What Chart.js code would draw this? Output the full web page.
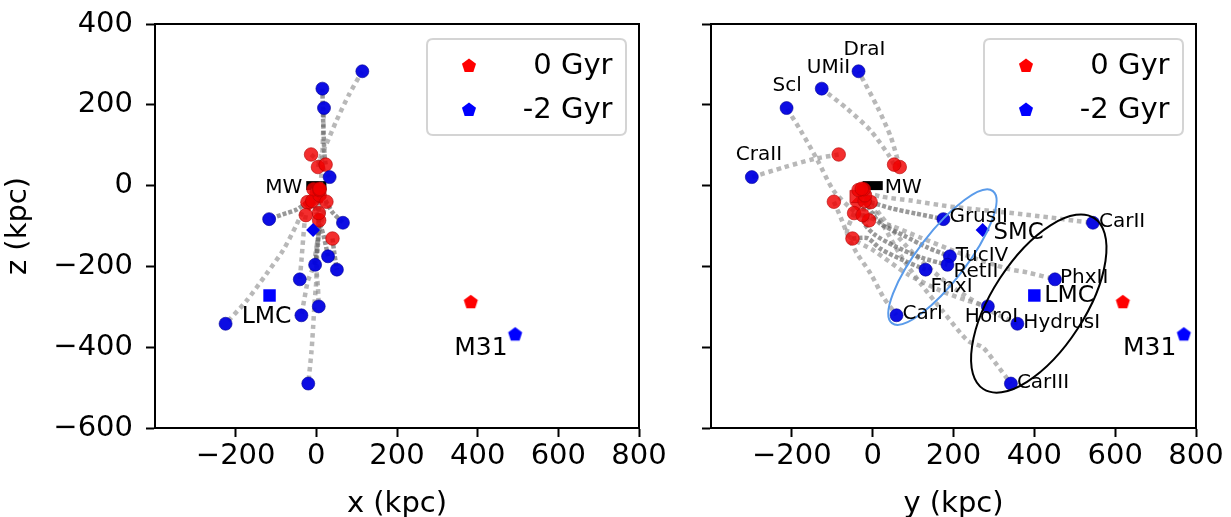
<!DOCTYPE html>
<html><head><meta charset="utf-8">
<script src="https://cdn.jsdelivr.net/npm/chart.js@4.4.1/dist/chart.umd.min.js"></script>
<style>
html,body{margin:0;padding:0;background:#fff;}
#wrap{position:relative;width:1231px;height:517px;overflow:hidden;}
#c1{position:absolute;left:0;top:0;}
#c2{position:absolute;left:690px;top:0;}
</style></head><body>
<div id="wrap"><canvas id="c1" width="690" height="517"></canvas><canvas id="c2" width="541" height="517"></canvas></div>
<script>
// ---------------- DATA ----------------
const names = ['DraI','UMiI','Scl','CraII','GrusII','TucIV','RetII','FnxI','CarI','HoroI','HydrusI','PhxII','CarII','CarIII'];
// -2 Gyr positions (kpc)
const blueX = [114, 15, 19, 33, -117, 29, -3, 51, -37, 6, -225, -41, 66, -20];
const blueY = [-35, -126, -213, -299, 175, 191, 185, 131, 59, 285, 358, 451, 545, 342];
const blueZ = [283, 240, 192, 21, -83, -175, -196, -208, -321, -299, -342, -232, -92, -490];
// 0 Gyr positions (kpc)
const redX = [4, 23, 7, -13, -22, -10, 8, 40, 25, 6, -7, -26, 8, 8];
const redY = [67, 53, -9, -84, -5, -20, -19, -50, -96, -46, -22, -25, -35, -27];
const redZ = [46, 52, -86, 77, -41, -38, -24, -131, -40, -68, -9, -73, -11, -8];
// Magellanic Clouds and M31: [x, y, z]
const lmcBlue = [-116, 400, -272];
const smcBlue = [-8, 272, -110];
const lmcRed = [0, -41, -27];
const smcRed = [-17, -38, -45];
const m31Red = [383, 619, -287];
const m31Blue = [493, 770, -367];
// Milky Way disc extent
const mwDisk = [-25, 25];
// ticks
const hTicks = [-200, 0, 200, 400, 600, 800];
const zTicks = [-600, -400, -200, 0, 200, 400];
// orbit trail waypoints between 0 Gyr and -2 Gyr (x,z) and (y,z)
const trailsXZ = [
  [[12,75],[25,103],[50,161],[82,227]],
  [[20,80],[17,160]],
  [[9,-40],[12,20],[15,80],[17,136]],
  [[5,60],[20,38]],
  [[-50,-60],[-83,-71]],
  [[2,-72],[18,-124]],
  [[5,-70],[6,-105],[4,-145]],
  [[45,-170]],
  [[16,-75],[3,-136],[-8,-202],[-21,-236],[-29,-277]],
  [[5,-120],[0,-161],[0,-202],[4,-252]],
  [[-28,-50],[-50,-99],[-83,-161],[-124,-219],[-173,-285]],
  [[-29,-90],[-33,-136],[-37,-186]],
  [[23,-37],[40,-66]],
  [[5,-100],[2,-170],[0,-235],[-4,-285],[-8,-351],[-12,-410]]
];
const trailsYZ = [
  [[45,120],[12,194]],
  [[40,75],[-5,136],[-63,190]],
  [[-50,-60],[-97,-12],[-136,62],[-178,136]],
  [[-145,66],[-220,45]],
  [[45,-56],[106,-69]],
  [[0,-70],[20,-95],[78,-124],[135,-153]],
  [[-22,-90],[3,-120],[53,-149],[119,-178]],
  [[-13,-130],[20,-157],[78,-186]],
  [[-79,-79],[-59,-129],[-40,-166],[-5,-218],[27,-277]],
  [[-63,-120],[3,-161],[86,-219],[168,-260],[235,-285]],
  [[20,-74],[94,-161],[193,-248],[292,-310]],
  [[45,-99],[119,-129],[218,-168],[334,-206],[383,-215]],
  [[20,-27],[94,-37],[193,-52],[334,-67],[441,-79],[499,-87]],
  [[20,-87],[69,-173],[119,-243],[173,-310],[235,-384],[272,-400],[309,-446]]
];
const darkXZ = ['GrusII','TucIV','RetII','FnxI','CarII','UMiI'];
const darkYZ = ['GrusII','TucIV','RetII','FnxI'];
// ellipses in the (y,z) panel: centre, semi-axes (kpc), angle (deg)
const ellipseCenters = [[172.6,-177],[411,-292]];
const ellipseAxes = [[205.6,60.2],[252,114.7]];
const ellipseAngles = [52.6, 57];
const legendLabels = ['0 Gyr', '-2 Gyr'];

// ---------------- STYLE ----------------
const FONT = 'DejaVu Sans';
const RED_FILL = 'rgba(240,0,0,0.82)', RED_EDGE = 'rgba(180,0,0,0.6)';
const BLUE_FILL = 'rgba(0,0,225,0.95)', BLUE_EDGE = 'rgba(0,0,150,0.6)';
const ellipseColors = ['#5a9bea', '#000000'];
// right-panel label offsets in px: [dx, dy, align, size]
const labelStyleYZ = {
  DraI:[-15,-16,'left',20], UMiI:[-15,-16,'left',20], Scl:[-14,-17,'left',20], CraII:[-16,-17,'left',20],
  GrusII:[6,3,'left',20], TucIV:[6,5,'left',20], RetII:[6,12,'left',20], FnxI:[5,22,'left',20],
  CarI:[6,4,'left',20], HoroI:[-23,16,'left',20], HydrusI:[6,4,'left',20], PhxII:[5,4,'left',20],
  CarII:[6,4,'left',20], CarIII:[6,4,'left',20]
};

function pentagonCanvas(color, R){
  const s = Math.ceil(2*R+2);
  const c = document.createElement('canvas'); c.width = s; c.height = s;
  const g = c.getContext('2d');
  drawPentagon(g, s/2, s/2 + R*0.1, R, color);
  return c;
}
function drawPentagon(g, cx, cy, R, color){
  g.beginPath();
  for (let k=0;k<5;k++){
    const a = -Math.PI/2 + k*2*Math.PI/5;
    const px = cx + R*Math.cos(a), py = cy + R*Math.sin(a);
    if (k===0) g.moveTo(px,py); else g.lineTo(px,py);
  }
  g.closePath(); g.fillStyle = color; g.fill();
}
const pentRed = pentagonCanvas('#ff0000', 7.4);
const pentBlue = pentagonCanvas('#0000ff', 7.4);

const fmt = v => (v < 0 ? '\u2212' : '') + Math.abs(v);

function buildDatasets(hi, hBlue, hRed, trails, dark){
  const ds = [];
  ds.push({ type:'line', data: mwDisk.map(v=>({x:v,y:0})), borderColor:'#000', borderWidth:9, borderCapStyle:'butt',
            pointRadius:0, fill:false, order:5 });
  names.forEach((n,i)=>{
    const pts = [{x:hRed[i], y:redZ[i]}].concat(trails[i].map(p=>({x:p[0],y:p[1]}))).concat([{x:hBlue[i], y:blueZ[i]}]);
    const isDark = dark.includes(n);
    ds.push({ type:'line', data: pts, showLine:true, pointRadius:0, fill:false, tension:0.25,
      borderColor: isDark ? 'rgba(85,85,85,0.6)' : 'rgba(140,140,140,0.62)', borderWidth: 4.5,
      borderDash: isDark ? [4,2] : [4.5,4], borderCapStyle:'butt', order:4 });
  });
  ds.push({ label:'0 Gyr', data: names.map((n,i)=>({x:hRed[i], y:redZ[i]})), pointRadius:6.8, pointHoverRadius:6.8,
    backgroundColor:RED_FILL, borderColor:RED_EDGE, borderWidth:1, order:3 });
  ds.push({ data:[{x:lmcRed[hi], y:lmcRed[2]}], pointStyle:'rect', pointRadius:8.7, backgroundColor:RED_FILL, borderColor:RED_EDGE, borderWidth:1, order:3 });
  ds.push({ data:[{x:smcRed[hi], y:smcRed[2]}], pointStyle:'rectRot', pointRadius:7, backgroundColor:RED_FILL, borderColor:RED_EDGE, borderWidth:1, order:3 });
  ds.push({ data:[{x:m31Red[hi], y:m31Red[2]}], pointStyle:pentRed, order:3 });
  ds.push({ label:'-2 Gyr', data: names.map((n,i)=>({x:hBlue[i], y:blueZ[i]})), pointRadius:6.5, pointHoverRadius:6.5,
    backgroundColor:BLUE_FILL, borderColor:BLUE_EDGE, borderWidth:1, order:1 });
  ds.push({ data:[{x:lmcBlue[hi], y:lmcBlue[2]}], pointStyle:'rect', pointRadius:8.8, backgroundColor:'#0000ff', borderWidth:0, order:1 });
  ds.push({ data:[{x:smcBlue[hi], y:smcBlue[2]}], pointStyle:'rectRot', pointRadius:7, backgroundColor:'#0000ee', borderWidth:0, order:1 });
  ds.push({ data:[{x:m31Blue[hi], y:m31Blue[2]}], pointStyle:pentBlue, order:1 });
  return ds;
}

const framePlugin = { id:'frame', afterDatasetsDraw(chart){
  const {ctx, chartArea:a} = chart;
  ctx.save(); ctx.strokeStyle='#000'; ctx.lineWidth=2;
  ctx.strokeRect(a.left, a.top, a.right-a.left, a.bottom-a.top); ctx.restore();
}};
const legendPlugin = { id:'lg', afterDraw(chart){
  const {ctx, chartArea:a} = chart;
  const w=199, h=96, L=a.right-13-w, T=a.top+15, r=6;
  ctx.save();
  ctx.beginPath();
  ctx.moveTo(L+r,T); ctx.lineTo(L+w-r,T); ctx.quadraticCurveTo(L+w,T,L+w,T+r);
  ctx.lineTo(L+w,T+h-r); ctx.quadraticCurveTo(L+w,T+h,L+w-r,T+h);
  ctx.lineTo(L+r,T+h); ctx.quadraticCurveTo(L,T+h,L,T+h-r);
  ctx.lineTo(L,T+r); ctx.quadraticCurveTo(L,T,L+r,T); ctx.closePath();
  ctx.fillStyle='rgba(255,255,255,0.85)'; ctx.fill();
  ctx.strokeStyle='#d4d4d4'; ctx.lineWidth=2; ctx.stroke();
  drawPentagon(ctx, L+42, T+27, 7.4, '#ff0000');
  drawPentagon(ctx, L+42, T+71, 7.4, '#0000ff');
  ctx.fillStyle='#000'; ctx.font = '29px "' + FONT + '"'; ctx.textAlign='right'; ctx.textBaseline='alphabetic';
  ctx.fillText(legendLabels[0], L+w-13.5, T+34.5);
  ctx.fillText(legendLabels[1], L+w-13.5, T+78.5);
  ctx.restore();
}};

function text(ctx, s, x, y, size, align){
  ctx.font = size + 'px "' + FONT + '"'; ctx.textAlign = align; ctx.textBaseline='alphabetic';
  ctx.fillStyle = '#000'; ctx.fillText(s, x, y);
}

const labelsXZ = { id:'labxz', afterDatasetsDraw(chart){
  const {ctx} = chart, sx = chart.scales.x, sy = chart.scales.y;
  ctx.save();
  text(ctx, 'MW', sx.getPixelForValue(mwDisk[0]) - 4, sy.getPixelForValue(0) + 7, 20, 'right');
  text(ctx, 'LMC', sx.getPixelForValue(lmcBlue[0]) - 3, sy.getPixelForValue(lmcBlue[2]) + 28, 23.5, 'center');
  text(ctx, 'M31', sx.getPixelForValue(m31Blue[0]) - 7.5, sy.getPixelForValue(m31Blue[2]) + 21, 25, 'right');
  ctx.restore();
}};
const labelsYZ = { id:'labyz', afterDatasetsDraw(chart){
  const {ctx} = chart, sx = chart.scales.x, sy = chart.scales.y;
  ctx.save();
  ellipseCenters.forEach((c,i)=>{
    const cx = sx.getPixelForValue(c[0]), cy = sy.getPixelForValue(c[1]);
    const ra = Math.abs(sx.getPixelForValue(c[0]+ellipseAxes[i][0]) - cx);
    const rb = Math.abs(sy.getPixelForValue(c[1]+ellipseAxes[i][1]) - cy);
    ctx.beginPath(); ctx.ellipse(cx, cy, ra, rb, -ellipseAngles[i]*Math.PI/180, 0, 2*Math.PI);
    ctx.strokeStyle = ellipseColors[i]; ctx.lineWidth = 2; ctx.stroke();
  });
  names.forEach((n,i)=>{
    const st = labelStyleYZ[n];
    text(ctx, n, sx.getPixelForValue(blueY[i]) + st[0], sy.getPixelForValue(blueZ[i]) + st[1], st[3], st[2]);
  });
  text(ctx, 'MW', sx.getPixelForValue(mwDisk[1]) + 2, sy.getPixelForValue(0) + 7, 20, 'left');
  text(ctx, 'SMC', sx.getPixelForValue(smcBlue[1]) + 11, sy.getPixelForValue(smcBlue[2]) + 9, 22.8, 'left');
  text(ctx, 'LMC', sx.getPixelForValue(lmcBlue[1]) + 10, sy.getPixelForValue(lmcBlue[2]) + 6.5, 23.5, 'left');
  text(ctx, 'M31', sx.getPixelForValue(m31Blue[1]) - 7.5, sy.getPixelForValue(m31Blue[2]) + 21, 25, 'right');
  ctx.restore();
}};

function zeroPad(s){ s.paddingLeft = 0; s.paddingRight = 0; s.paddingTop = 0; s.paddingBottom = 0; }

function makeOptions(xTitle, showY, yWidth, padRight){
  const tickFont = {family:FONT, size:29};
  return {
    responsive:false, animation:false, devicePixelRatio:1,
    layout:{autoPadding:false, padding:{left:0, right:padRight, top:24, bottom:0}},
    plugins:{legend:{display:false}, tooltip:{enabled:false}},
    scales:{
      x:{type:'linear', min:-400, max:800,
        afterBuildTicks: s => { s.ticks = hTicks.map(v=>({value:v})); },
        afterFit: s => { s.height = 89; zeroPad(s); },
        ticks:{font:tickFont, color:'#000', padding:2, maxRotation:0, autoSkip:false, callback: fmt},
        grid:{drawOnChartArea:false, drawTicks:true, tickLength:9, tickWidth:2, tickColor:'#000'},
        border:{display:true, color:'#000', width:2},
        title:{display:true, text:xTitle, font:tickFont, color:'#000', padding:{top:0,bottom:-5}}
      },
      y:{type:'linear', min:-600, max:400,
        afterBuildTicks: s => { s.ticks = zTicks.map(v=>({value:v})); },
        afterFit: s => { s.width = yWidth; zeroPad(s); },
        ticks:{font:tickFont, color:'#000', padding:13, autoSkip:false, callback: v => showY ? fmt(v) : ''},
        grid:{drawOnChartArea:false, drawTicks:true, tickLength:9, tickWidth:2, tickColor:'#000'},
        border:{display:true, color:'#000', width:2},
        title:{display:showY, text:'z (kpc)', font:tickFont, color:'#000', padding:{top:1,bottom:0}}
      }
    }
  };
}

new Chart(document.getElementById('c1'), {
  type:'scatter',
  data:{datasets: buildDatasets(0, blueX, redX, trailsXZ, darkXZ)},
  options: makeOptions('x (kpc)', true, 155, 51),
  plugins:[labelsXZ, framePlugin, legendPlugin]
});
new Chart(document.getElementById('c2'), {
  type:'scatter',
  data:{datasets: buildDatasets(1, blueY, redY, trailsYZ, darkYZ)},
  options: makeOptions('y (kpc)', false, 21, 35),
  plugins:[labelsYZ, framePlugin, legendPlugin]
});
</script>
</body></html>
